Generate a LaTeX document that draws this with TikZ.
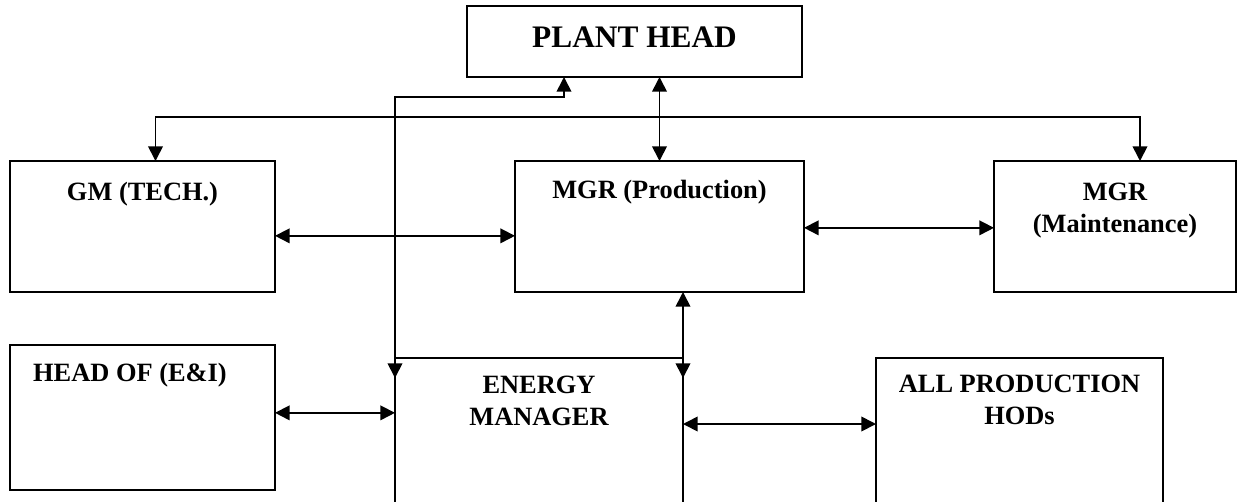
\documentclass[tikz,border=0pt]{standalone}
\usepackage{fontspec}
\setmainfont{Liberation Serif}
\usetikzlibrary{arrows.meta,positioning}

\begin{document}
\begin{tikzpicture}[x=0.75pt,y=-0.75pt,
  box/.style={draw,line width=1.5pt,inner sep=0pt,outer sep=0pt,anchor=north west,minimum height=98.25pt},
  txt/.style={inner sep=0pt,align=center,font=\bfseries\fontsize{19.8pt}{24pt}\selectfont},
  link/.style={line width=1.3pt},
  >={Triangle[length=11pt,width=11pt]}]
  \clip (0,0) rectangle (1238,501);
  % top row
  \node[box,minimum width=251.25pt,minimum height=53.25pt] (head) at (467,6) {};
  \node[box,minimum width=198.75pt] (gm) at (10,161) {};
  \node[box,minimum width=216.75pt] (prod) at (515,161) {};
  \node[box,minimum width=181.5pt] (maint) at (994,161) {};
  % bottom row
  \node[box,minimum width=198.75pt,minimum height=108.75pt] (ei) at (10,345) {};
  \node[box,minimum width=216pt,minimum height=150pt] (energy) at (395,358) {};
  \node[box,minimum width=215.25pt,minimum height=150pt] (hods) at (876,358) {};
  % texts
  \node[txt,font=\bfseries\fontsize{23.5pt}{28pt}\selectfont,below=15.5pt of head.north] (headtxt) {PLANT HEAD};
  \node[txt,below=16pt of gm.north] (gmtxt) {GM (TECH.)};
  \node[txt,below=14.5pt of prod.north] (prodtxt) {MGR (Production)};
  \node[txt,below=16.5pt of maint.north] (mainttxt) {MGR\\(Maintenance)};
  \node[txt,below=13.5pt of ei.north,xshift=-9.4pt] (eitxt) {HEAD OF (E\&I)};
  \node[txt,below=13.5pt of energy.north] (energytxt) {ENERGY\\MANAGER};
  \node[txt,below=12.75pt of hods.north] (hodstxt) {ALL PRODUCTION\\HODs};
  % links
  \draw[link,<->] ([yshift=-15pt]energy.north west) |- ([xshift=72.75pt,yshift=-15pt]head.south west) -- ([xshift=72.75pt]head.south west);
  \draw[link,<->] (prod.north |- head.south) -- (prod.north);
  \draw[link,<->] ([xshift=9.75pt]gm.north) -- ++(0pt,33pt) -| ([xshift=18.75pt]maint.north);
  \draw[link,<->] ([yshift=-7pt]gm.east) -- ([yshift=-7pt]prod.west);
  \draw[link,<->] ([yshift=-1pt]prod.east) -- ([yshift=-1pt]maint.west);
  \draw[link,<->] (energy.north east |- prod.south) -- ([yshift=-15pt]energy.north east);
  \draw[link,<->] ([yshift=3.5pt]ei.east) -- ([yshift=3.5pt]ei.east -| energy.west);
  \draw[link,<->] ([yshift=-49.5pt]energy.north east) -- ([yshift=-49.5pt]hods.north west);
\end{tikzpicture}
\end{document}
